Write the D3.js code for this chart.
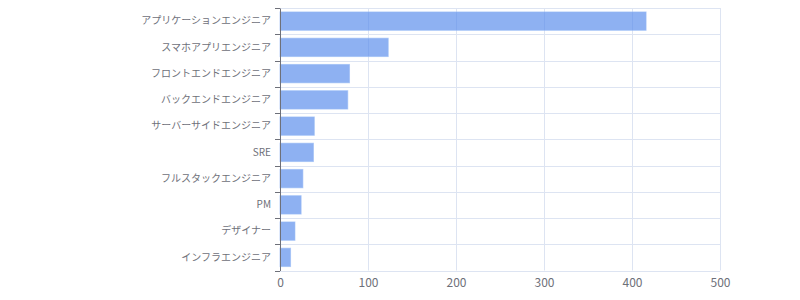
<!DOCTYPE html>
<html lang="ja">
<head>
  <meta charset="UTF-8">
  <title>職種別</title>
  <script src="https://cdn.jsdelivr.net/npm/d3@7"></script>
  <style>
    body { margin: 0; background: #fff; }
    text { font-family: "Noto Sans CJK JP", "Noto Sans", sans-serif; }
  </style>
</head>
<body>
  <svg width="800" height="300"></svg>
  <script>
    var categories = ['アプリケーションエンジニア', 'スマホアプリエンジニア', 'フロントエンドエンジニア',
      'バックエンドエンジニア', 'サーバーサイドエンジニア', 'SRE', 'フルスタックエンジニア',
      'PM', 'デザイナー', 'インフラエンジニア'];
    var counts = [416, 123, 79, 77, 39, 38, 26, 24, 17, 12];
    var xTicks = [0, 100, 200, 300, 400, 500];

    var margin = { top: 8, right: 80, bottom: 29.5, left: 280 };
    var svg = d3.select('svg');
    var width = +svg.attr('width') - margin.left - margin.right;
    var height = +svg.attr('height') - margin.top - margin.bottom;
    var g = svg.append('g').attr('transform', 'translate(' + margin.left + ',' + margin.top + ')');

    var x = d3.scaleLinear().domain([0, 500]).range([0, width]);
    var y = d3.scaleBand().domain(categories).range([0, height]).paddingInner(0).paddingOuter(0);

    var gridColor = '#dde4f2';

    // vertical grid
    g.selectAll('.vgrid').data(xTicks).enter().append('line')
      .attr('x1', function(d) { return Math.round(x(d)) + 0.5; })
      .attr('x2', function(d) { return Math.round(x(d)) + 0.5; })
      .attr('y1', 0).attr('y2', height)
      .attr('stroke', gridColor);

    // horizontal grid at band edges
    var edges = categories.map(function(c) { return y(c); }).concat([height]);
    g.selectAll('.hgrid').data(edges).enter().append('line')
      .attr('x1', 0).attr('x2', width)
      .attr('y1', function(d) { return Math.round(d) + 0.5; })
      .attr('y2', function(d) { return Math.round(d) + 0.5; })
      .attr('stroke', gridColor);

    // bars
    var barH = y.bandwidth() * 0.7;
    g.selectAll('.bar').data(categories).enter().append('rect')
      .attr('x', 0)
      .attr('y', function(d) { return y(d) + (y.bandwidth() - barH) / 2; })
      .attr('width', function(d, i) { return x(counts[i]); })
      .attr('height', barH)
      .attr('fill', 'rgba(88,140,236,0.68)')
      .attr('stroke', 'rgba(150,185,245,0.6)')
      .attr('stroke-width', 1);

    // y axis
    var yAxis = g.append('g')
      .call(d3.axisLeft(y).tickSize(0).tickPadding(9));
    yAxis.select('.domain').attr('stroke', '#6e7079');
    yAxis.selectAll('text').attr('fill', '#6e7079').attr('font-size', '10px');
    g.selectAll('.ytick').data(edges).enter().append('line')
      .attr('x1', -5).attr('x2', 0)
      .attr('y1', function(d) { return Math.round(d) + 0.5; })
      .attr('y2', function(d) { return Math.round(d) + 0.5; })
      .attr('stroke', '#6e7079');

    // x axis labels
    var xAxis = g.append('g')
      .attr('transform', 'translate(0,' + height + ')')
      .call(d3.axisBottom(x).tickValues(xTicks).tickSize(0).tickPadding(8));
    xAxis.select('.domain').remove();
    xAxis.selectAll('text').attr('fill', '#6e7079').attr('font-size', '12px');
  </script>
</body>
</html>
